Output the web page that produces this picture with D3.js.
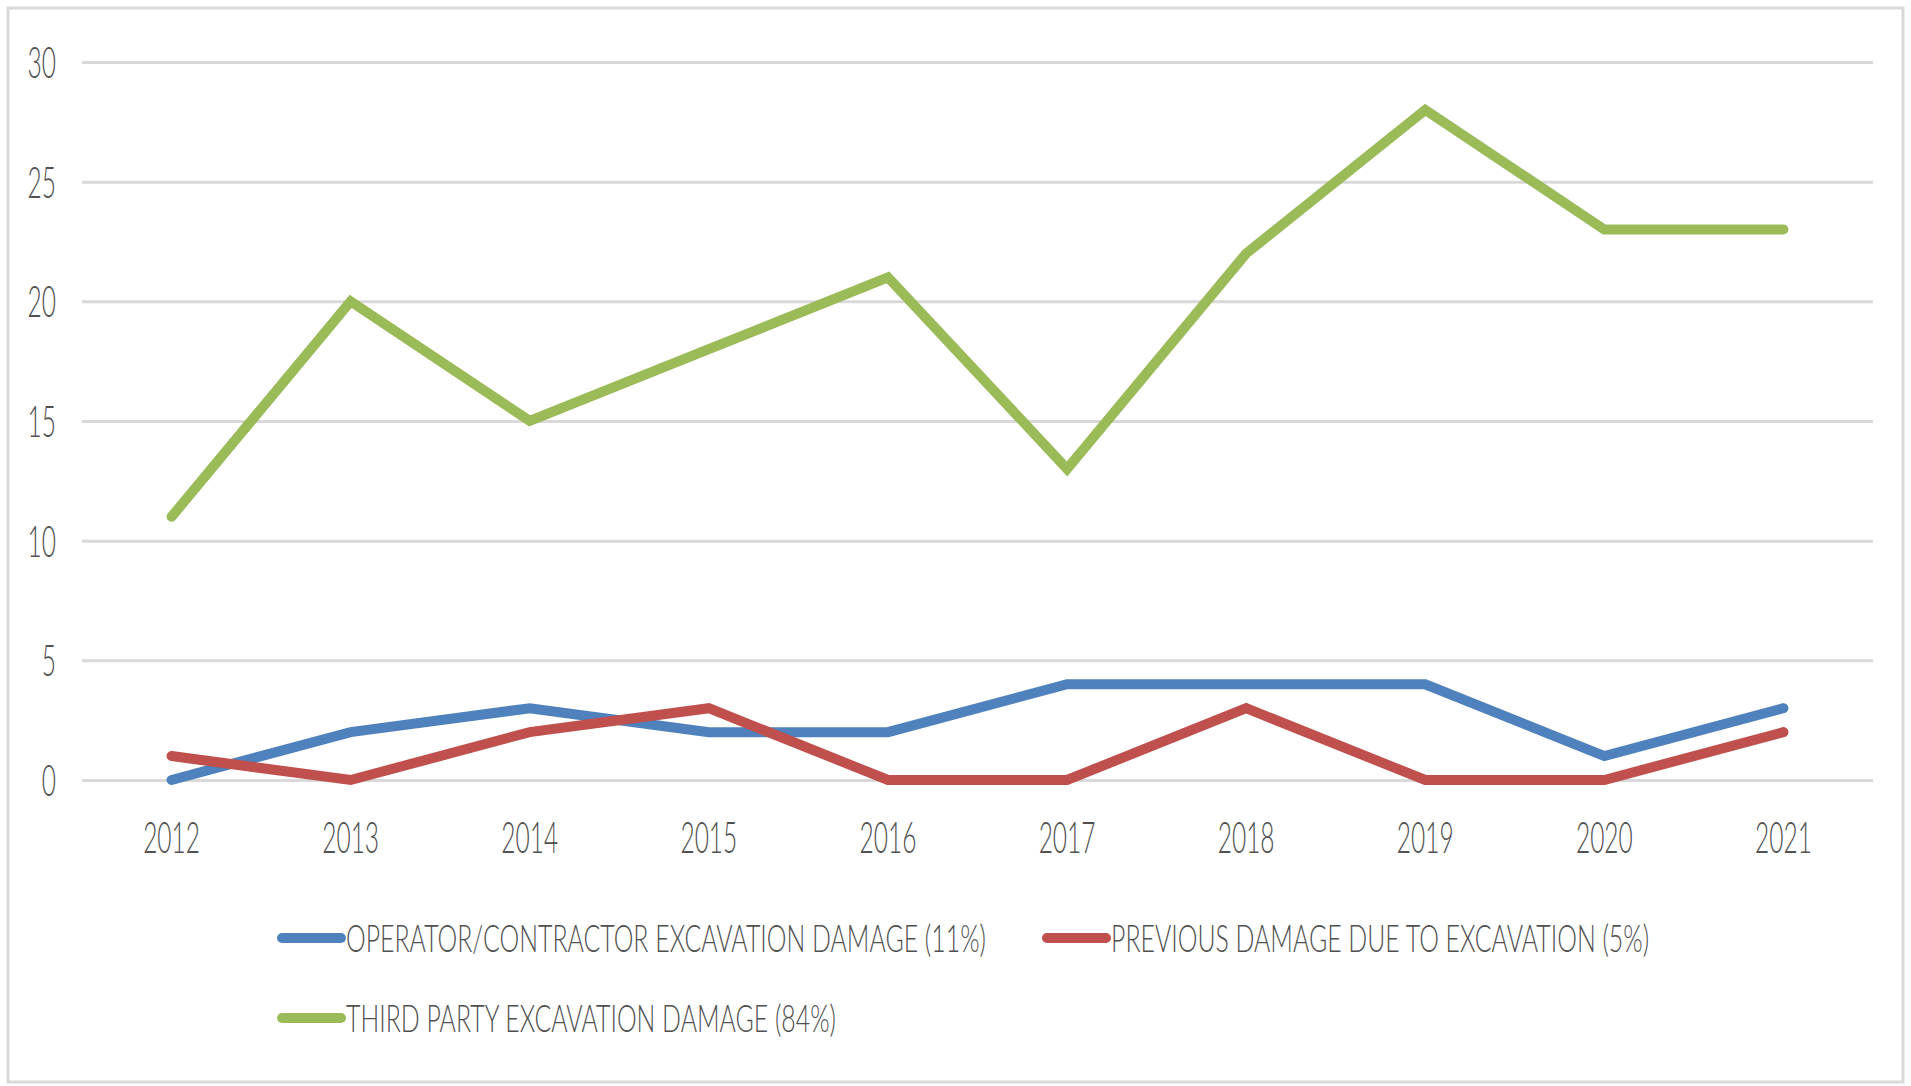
<!DOCTYPE html>
<html>
<head>
<meta charset="utf-8">
<script src="https://cdn.jsdelivr.net/npm/d3@7"></script>
<style>
  html, body { margin: 0; padding: 0; background: #fff; }
  svg { display: block; }
  text { font-family: Lato, "Open Sans", sans-serif; font-weight: 300; fill: #505050; }
</style>
</head>
<body>
<div id="chart"></div>
<script>
// Excavation damage incidents by year, three causes.
const years = ["2012", "2013", "2014", "2015", "2016", "2017", "2018", "2019", "2020", "2021"];
const operatorDamage = [0, 2, 3, 2, 2, 4, 4, 4, 1, 3];
const previousDamage = [1, 0, 2, 3, 0, 0, 3, 0, 0, 2];
const thirdPartyDamage = [11, 20, 15, 18, 21, 13, 22, 28, 23, 23];
const yTicks = [0, 5, 10, 15, 20, 25, 30];
const seriesNames = [
  "OPERATOR/CONTRACTOR EXCAVATION DAMAGE (11%)",
  "PREVIOUS DAMAGE DUE TO EXCAVATION (5%)",
  "THIRD PARTY EXCAVATION DAMAGE (84%)",
];
const seriesColors = ["#4F81BD", "#C0504D", "#9BBB59"];

const W = 1911, H = 1086;
const plot = { left: 82, right: 1873, top: 62, bottom: 780 };
const SQUEEZE = 0.57;        // tick text is horizontally compressed in the source
const LEGEND_SQUEEZE = 0.655;

const svg = d3.select("#chart").append("svg").attr("width", W).attr("height", H);

// outer frame
svg.append("rect").attr("x", 8).attr("y", 8).attr("width", W - 16).attr("height", H - 12)
  .attr("fill", "none").attr("stroke", "#d9d9d9").attr("stroke-width", 3);

const x = d3.scaleBand().domain(years).range([plot.left, plot.right]);
const cx = (d) => x(d) + x.bandwidth() / 2;
const y = d3.scaleLinear().domain([0, 30]).range([plot.bottom, plot.top]);

// y axis + gridlines
svg.append("g").attr("transform", `translate(${plot.left},0)`)
  .call(d3.axisLeft(y).tickValues(yTicks).tickSize(-(plot.right - plot.left)).tickPadding(26))
  .call((g) => g.select(".domain").remove())
  .call((g) => g.selectAll("line").attr("stroke", "#d9d9d9").attr("stroke-width", 3))
  .call((g) => g.selectAll("text").attr("font-size", 43).attr("dy", "0.36em")
    .attr("fill", "#505050").attr("transform", `scale(${SQUEEZE},1)`)
    .attr("x", -26 / SQUEEZE));

// x axis labels
svg.append("g").attr("transform", `translate(0,${plot.bottom})`)
  .call(d3.axisBottom(x).tickSize(0).tickPadding(0))
  .call((g) => g.select(".domain").remove())
  .call((g) => g.selectAll("text").attr("font-size", 43).attr("y", 73).attr("dy", 0)
    .attr("fill", "#505050").attr("transform", `scale(${SQUEEZE},1)`));

const line = d3.line().x((d, i) => cx(years[i])).y((d) => y(d));
[operatorDamage, previousDamage, thirdPartyDamage].forEach((vals, k) => {
  svg.append("path").datum(vals)
    .attr("fill", "none").attr("stroke", seriesColors[k]).attr("stroke-width", 10)
    .attr("stroke-linecap", "round").attr("stroke-linejoin", "miter")
    .attr("d", line);
});

// legend
const legendItems = [
  { x: 278, y: 938 },
  { x: 1043, y: 938 },
  { x: 278, y: 1018 },
];
legendItems.forEach((p, k) => {
  const g = svg.append("g").attr("transform", `translate(${p.x},${p.y})`);
  g.append("line").attr("x1", 4).attr("x2", 63).attr("y1", 0).attr("y2", 0)
    .attr("stroke", seriesColors[k]).attr("stroke-width", 10).attr("stroke-linecap", "round");
  g.append("text").attr("transform", `translate(68,0) scale(${LEGEND_SQUEEZE},1)`)
    .attr("dy", "0.36em").attr("font-size", 38).text(seriesNames[k]);
});
</script>
</body>
</html>
